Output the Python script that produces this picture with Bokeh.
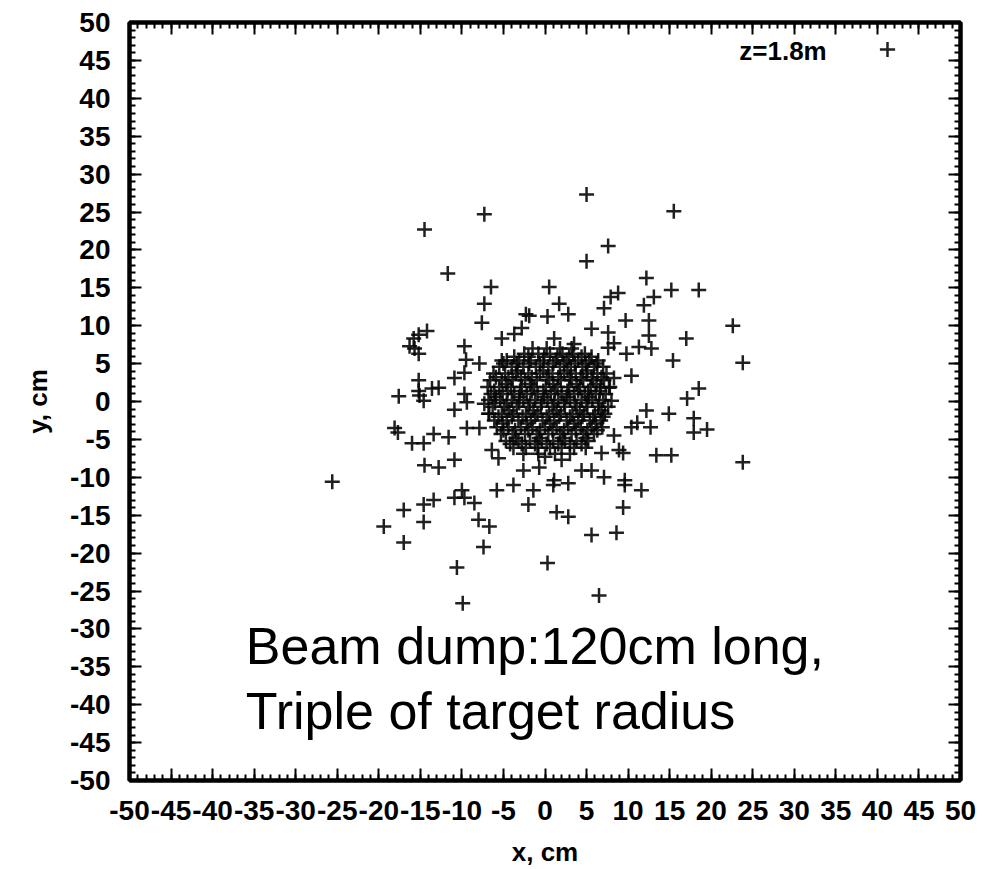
from bokeh.plotting import figure
from bokeh.models import (LinearAxis, SingleIntervalTicker, Range1d, Label,
                          Legend, LegendItem, ColumnDataSource, CustomJSTickFormatter)
from bokeh.embed import file_html
from bokeh.resources import INLINE

# ---------------- data ----------------
series_label = "z=1.8m"
x_title = "x, cm"
y_title = "y, cm"
note_line1 = "Beam dump:120cm long,"
note_line2 = "Triple of target radius"

# dense core of the beam spot
core_x = [
    -1.5, 0.2, 1.8, 3.2,
    -2.5, -0.8, 0.6, 2.1, 3.4, 4.8,
    -3.7, -2.0, -0.1, 1.5, 2.9, 4.4, 5.6,
    -4.6, -3.1, -1.7, -0.2, 1.3, 2.6, 4.0, 5.3, 6.4,
    -5.0, -3.4, -1.9, -0.6, 1.0, 2.3, 3.6, 4.9, 6.2,
    -5.5, -4.0, -2.6, -1.1, 0.4, 1.8, 3.1, 4.5, 5.9, 7.0,
    -3.3, -0.2, 2.7, 5.1,
    -6.2, -4.8, -3.5, -2.0, -0.6, 0.9, 2.3, 3.7, 5.0, 6.3, 7.4,
    -5.9, -4.4, -2.9, -1.6, 0.2, 1.6, 3.0, 4.3, 5.6, 6.8,
    -6.6, -5.2, -3.9, -2.4, -1.0, 0.5, 1.9, 3.2, 4.6, 5.8, 7.1,
    -4.7, -1.8, 1.0, 3.8, 6.2,
    -6.9, -5.5, -4.1, -2.8, -1.3, 0.1, 1.5, 2.9, 4.2, 5.5, 6.7, 7.8,
    -6.1, -4.5, -3.0, -1.6, -0.2, 1.2, 2.7, 4.0, 5.2, 6.6,
    -6.5, -5.1, -3.7, -2.2, -0.9, 0.7, 2.0, 3.5, 4.8, 6.1, 7.3,
    -5.9, -3.1, -0.1, 2.6, 5.3,
    -6.8, -5.4, -4.0, -2.6, -1.2, 0.3, 1.6, 3.0, 4.4, 5.7, 7.0,
    -6.0, -4.6, -3.1, -1.8, -0.4, 1.1, 2.3, 3.6, 5.0, 6.5,
    -6.3, -4.9, -3.4, -2.0, -0.5, 0.9, 2.4, 3.8, 5.1, 6.4, 7.6,
    -4.3, -1.4, 1.4, 4.2, 6.8,
    -6.7, -5.2, -3.8, -2.3, -0.9, 0.5, 1.9, 3.3, 4.7, 6.0, 7.2,
    -5.6, -4.0, -2.7, -1.2, 0.2, 1.7, 3.0, 4.5, 5.8, 7.0,
    -6.1, -4.6, -3.2, -1.7, -0.3, 1.1, 2.6, 4.0, 5.4, 6.7,
    -5.1, -2.2, 0.6, 3.5, 6.1,
    -5.8, -4.4, -2.9, -1.5, 0.0, 1.4, 2.8, 4.3, 5.6, 6.9,
    -5.0, -3.6, -2.0, -0.6, 0.9, 2.3, 3.7, 5.1, 6.3,
    -5.3, -3.9, -2.4, -1.0, 0.4, 1.8, 3.2, 4.6, 5.9,
    -3.5, -0.7, 2.1, 4.9,
    -4.7, -3.2, -1.8, -0.4, 1.0, 2.4, 3.8, 5.2,
    -4.2, -2.8, -1.2, 0.2, 1.6, 3.0, 4.4,
    -3.8, -2.3, -0.9, 0.6, 2.0, 3.5, 4.9,
    -2.6, -0.8, 1.2, 3.0,
]
core_y = [
    7.0, 7.0, 7.0, 7.0,
    6.3, 6.3, 6.3, 6.3, 6.3, 6.3,
    5.9, 5.9, 5.9, 5.9, 5.9, 5.9, 5.9,
    5.4, 5.4, 5.4, 5.4, 5.4, 5.4, 5.4, 5.4, 5.4,
    5.0, 5.0, 5.0, 5.0, 5.0, 5.0, 5.0, 5.0, 5.0,
    4.6, 4.6, 4.6, 4.6, 4.6, 4.6, 4.6, 4.6, 4.6, 4.6,
    4.1, 4.1, 4.1, 4.1,
    3.7, 3.7, 3.7, 3.7, 3.7, 3.7, 3.7, 3.7, 3.7, 3.7, 3.7,
    3.2, 3.2, 3.2, 3.2, 3.2, 3.2, 3.2, 3.2, 3.2, 3.2,
    2.8, 2.8, 2.8, 2.8, 2.8, 2.8, 2.8, 2.8, 2.8, 2.8, 2.8,
    2.3, 2.3, 2.3, 2.3, 2.3,
    1.9, 1.9, 1.9, 1.9, 1.9, 1.9, 1.9, 1.9, 1.9, 1.9, 1.9, 1.9,
    1.4, 1.4, 1.4, 1.4, 1.4, 1.4, 1.4, 1.4, 1.4, 1.4,
    1.0, 1.0, 1.0, 1.0, 1.0, 1.0, 1.0, 1.0, 1.0, 1.0, 1.0,
    0.6, 0.6, 0.6, 0.6, 0.6,
    0.2, 0.2, 0.2, 0.2, 0.2, 0.2, 0.2, 0.2, 0.2, 0.2, 0.2,
    -0.2, -0.2, -0.2, -0.2, -0.2, -0.2, -0.2, -0.2, -0.2, -0.2,
    -0.7, -0.7, -0.7, -0.7, -0.7, -0.7, -0.7, -0.7, -0.7, -0.7, -0.7,
    -1.2, -1.2, -1.2, -1.2, -1.2,
    -1.6, -1.6, -1.6, -1.6, -1.6, -1.6, -1.6, -1.6, -1.6, -1.6, -1.6,
    -2.0, -2.0, -2.0, -2.0, -2.0, -2.0, -2.0, -2.0, -2.0, -2.0,
    -2.5, -2.5, -2.5, -2.5, -2.5, -2.5, -2.5, -2.5, -2.5, -2.5,
    -2.9, -2.9, -2.9, -2.9, -2.9,
    -3.4, -3.4, -3.4, -3.4, -3.4, -3.4, -3.4, -3.4, -3.4, -3.4,
    -3.8, -3.8, -3.8, -3.8, -3.8, -3.8, -3.8, -3.8, -3.8,
    -4.3, -4.3, -4.3, -4.3, -4.3, -4.3, -4.3, -4.3, -4.3,
    -4.8, -4.8, -4.8, -4.8,
    -5.2, -5.2, -5.2, -5.2, -5.2, -5.2, -5.2, -5.2,
    -5.6, -5.6, -5.6, -5.6, -5.6, -5.6, -5.6,
    -6.1, -6.1, -6.1, -6.1, -6.1, -6.1, -6.1,
    -6.9, -6.9, -6.9, -6.9,
]

# scattered halo / outliers
halo_x = [
    5.0, -7.3, 15.5, -14.5, 7.6, 5.0, -11.7, 12.2, -6.5, 0.5, 15.2, 18.5,
    8.8, 7.9, 13.1, -7.3, 1.7, 11.9, 7.1, 2.8, -2.3, -1.9, 0.3, 9.7, 12.5,
    22.6, -7.6, -2.8, 5.6, 7.6, -3.7, 12.5, -5.2, 1.1, 17.0, 8.3, 3.5, 11.3,
    12.8, 7.6, 9.8, 15.4, 23.8, 10.4, 8.3, 7.7, 8.0, 18.5, 17.1,
    -14.2, -15.2, -15.8, -16.3, -15.7, -15.2, -9.7, -9.5, -9.7, -10.9,
    -15.2, -15.2, -15.1, -14.6, -13.6, -12.8, -17.6, -9.7, -9.4, -10.9,
    -18.1, -17.7, -16.0, -14.6, -13.4, -11.6, -9.4, -14.5, -12.8, -10.9,
    -7.9, -5.2, -7.9, -6.8, -7.3, -25.6,
    12.2, 14.9, 17.9, 10.4, 11.1, 12.7, 17.9, 19.5, 9.4, 13.4, 15.2, 23.8,
    8.3, 8.9, 6.8,
    -6.4, -5.6, -2.6, -0.7, 0.0, 2.0, 1.1, 1.0, 2.8, 4.4, 5.6, 7.1, 9.6,
    9.6, 11.6, -10.0, -9.7, -8.5, -5.8, -3.8, -1.4, -2.0, 1.4, 2.8, 5.6,
    8.6, 9.4, -17.0, -14.6, -13.4, -14.6, -19.4, -17.0, -8.0, -6.7, -7.4,
    -10.9, -10.6, 0.3, 6.5, -9.9,
]
halo_y = [
    27.3, 24.7, 25.1, 22.7, 20.5, 18.5, 16.9, 16.3, 15.1, 15.1, 14.7, 14.7,
    14.3, 13.8, 13.8, 12.9, 12.9, 12.7, 12.3, 11.5, 11.5, 11.3, 11.2, 10.7, 10.7,
    10.0, 10.4, 9.7, 9.6, 9.1, 8.9, 8.7, 8.3, 8.3, 8.3, 7.7, 7.6, 7.2,
    7.0, 7.1, 6.3, 5.4, 5.1, 3.4, 3.1, 1.8, 0.1, 1.7, 0.4,
    9.3, 8.8, 8.3, 7.3, 7.0, 6.3, 7.3, 5.5, 3.8, 3.1,
    2.8, 1.4, 0.8, 0.1, 1.7, 1.8, 0.7, 1.0, -0.1, -1.1,
    -3.5, -4.1, -5.5, -5.5, -4.3, -4.7, -3.5, -8.4, -8.7, -7.7,
    5.0, 5.4, -3.5, -1.6, -0.3, -10.6,
    -1.2, -1.6, -2.2, -3.4, -2.8, -3.4, -4.1, -3.7, -6.8, -7.1, -7.1, -8.0,
    -4.5, -6.4, -6.8,
    -6.4, -7.5, -9.1, -8.7, -7.3, -7.7, -10.4, -11.0, -10.8, -9.1, -9.1, -10.0, -10.4,
    -11.0, -11.7, -11.7, -12.7, -13.4, -11.7, -11.0, -11.7, -13.6, -14.6, -15.2, -17.6,
    -17.3, -14.0, -14.3, -13.6, -13.0, -15.9, -16.5, -18.6, -15.6, -16.5, -19.2,
    -12.7, -21.9, -21.3, -25.6, -26.6,
]

xs = core_x + halo_x
ys = core_y + halo_y
source = ColumnDataSource(data=dict(x=xs, y=ys))

# ---------------- figure ----------------
FONT = "Liberation Sans"
p = figure(frame_width=831, frame_height=758,
           x_range=Range1d(-50, 50), y_range=Range1d(-50, 50),
           output_backend="svg", toolbar_location=None,
           min_border_left=129, min_border_right=23,
           min_border_top=22, min_border_bottom=89,
           x_axis_label=x_title, y_axis_label=y_title,
           background_fill_color="white", border_fill_color="white")
p.grid.visible = False
p.outline_line_color = "black"
p.outline_line_width = 4

bottom_axis = p.xaxis[0]
left_axis = p.yaxis[0]
top_axis = LinearAxis()
right_axis = LinearAxis()
p.add_layout(top_axis, "above")
p.add_layout(right_axis, "right")

for ax in [bottom_axis, left_axis, top_axis, right_axis]:
    ax.ticker = SingleIntervalTicker(interval=5, num_minor_ticks=5)
    ax.major_tick_in = 12
    ax.major_tick_out = 0
    ax.minor_tick_in = 6
    ax.minor_tick_out = 0
    ax.axis_line_width = 4
    ax.major_tick_line_width = 2
    ax.minor_tick_line_width = 2
    ax.major_label_text_font = FONT
    ax.major_label_text_font_style = "bold"
    ax.major_label_text_font_size = "28px"
    ax.major_label_text_color = "black"
    ax.axis_label_text_font = FONT
    ax.axis_label_text_font_style = "bold"
    ax.axis_label_text_font_size = "26px"
    ax.axis_label_text_color = "black"

for ax in [bottom_axis, left_axis]:
    ax.formatter = CustomJSTickFormatter(code="return String(tick)")

for ax in [top_axis, right_axis]:
    ax.formatter = CustomJSTickFormatter(code="return ''")
    ax.major_label_standoff = 0

bottom_axis.major_label_standoff = 20
left_axis.major_label_standoff = 19
bottom_axis.axis_label_standoff = 14
left_axis.axis_label_standoff = 14

r = p.scatter("x", "y", source=source, marker="cross", size=15,
              line_width=2.5, line_color="#080808", line_alpha=0.9)

legend = Legend(items=[LegendItem(label=" ", renderers=[r])],
                location=(739, 712), padding=0, margin=0, spacing=0,
                glyph_width=38, glyph_height=38, label_standoff=0,
                border_line_alpha=0, background_fill_alpha=0)
p.add_layout(legend)

p.add_layout(Label(x=33.9, y=46.3, text=series_label, text_align="right",
                   text_baseline="middle", text_font=FONT,
                   text_font_style="bold", text_font_size="26px",
                   text_color="black"))

p.add_layout(Label(x=-36.0, y=-32.3, text=note_line1, text_align="left",
                   text_baseline="alphabetic", text_font=FONT,
                   text_font_size="52px", text_color="black"))
p.add_layout(Label(x=-36.0, y=-40.8, text=note_line2, text_align="left",
                   text_baseline="alphabetic", text_font=FONT,
                   text_font_size="52px", text_color="black"))

open("out.html", "w").write(file_html(p, INLINE))
